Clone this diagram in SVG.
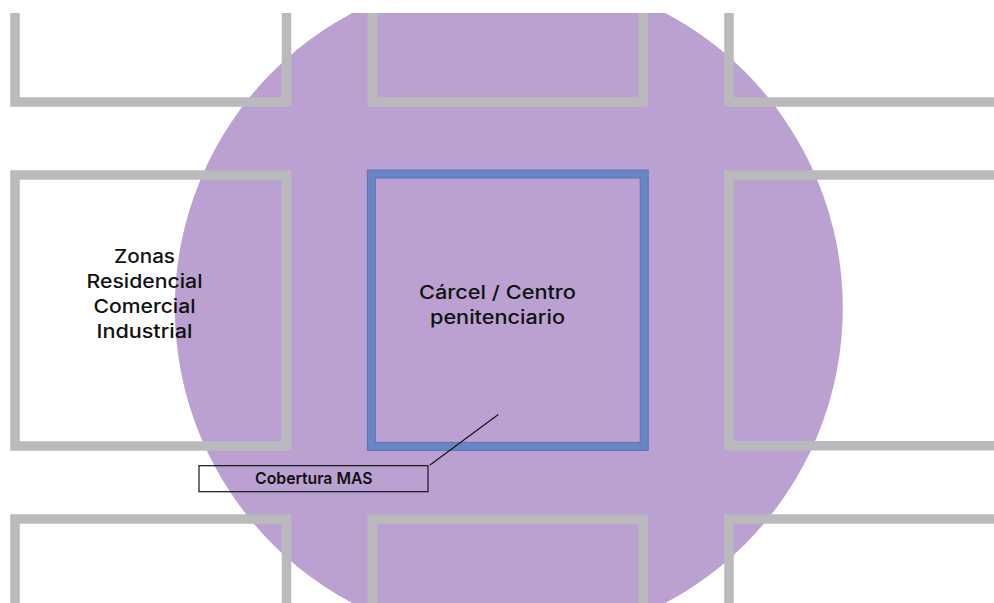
<svg xmlns="http://www.w3.org/2000/svg" width="994" height="603" viewBox="0 0 994 603">
  <defs>
    <clipPath id="frame">
      <rect x="0" y="13" width="994" height="590"/>
    </clipPath>
    <style>
      .block { fill: none; stroke: #bababd; stroke-width: 9.5; stroke-linejoin: miter; }
      .prison { fill: none; stroke: #6886c6; stroke-width: 8; }
      .prison-edge { fill: none; stroke: #5a74b0; stroke-width: 1; }
      .lbl { font-family: Inter, "Open Sans", "Liberation Sans", sans-serif; font-size: 18.5px; font-weight: 500; fill: #111111; text-anchor: middle; }
      .tag { font-family: Inter, "Open Sans", "Liberation Sans", sans-serif; font-size: 16.5px; font-weight: 600; fill: #111111; text-anchor: middle; }
      .box { fill: none; stroke: #141414; stroke-width: 1.2; }
      .lead { stroke: #141414; stroke-width: 1.2; fill: none; }
    </style>
  </defs>
  <rect x="0" y="0" width="994" height="603" fill="#ffffff"/>
  <g clip-path="url(#frame)">
    <g id="coverage-area">
      <circle cx="508.8" cy="308" r="334" fill="#bba1d2"/>
    </g>
    <g id="block-top-left"><path class="block" d="M15,13 V102 H286.5 V13"/></g>
    <g id="block-top-middle"><path class="block" d="M372.3,13 V102 H643 V13"/></g>
    <g id="block-top-right"><path class="block" d="M729,13 V102 H1000"/></g>
    <g id="block-zonas">
      <rect class="block" x="15" y="175" width="271.5" height="271"/>
      <text class="lbl" x="144.5" y="263.3" textLength="61" lengthAdjust="spacingAndGlyphs">Zonas</text>
      <text class="lbl" x="144.5" y="288.2" textLength="116" lengthAdjust="spacingAndGlyphs">Residencial</text>
      <text class="lbl" x="144.5" y="313" textLength="102" lengthAdjust="spacingAndGlyphs">Comercial</text>
      <text class="lbl" x="144.5" y="337.8" textLength="96" lengthAdjust="spacingAndGlyphs">Industrial</text>
    </g>
    <g id="block-middle-right"><path class="block" d="M1000,175 H729 V445.8 H1000"/></g>
    <g id="carcel">
      <rect class="prison" x="371.3" y="174" width="272.9" height="272.4"/>
      <rect class="prison-edge" x="367.3" y="170" width="280.9" height="280.4"/>
      <rect class="prison-edge" x="375.3" y="178" width="264.9" height="264.4"/>
      <text class="lbl" x="497.5" y="299.3" font-size="19" textLength="157" lengthAdjust="spacingAndGlyphs">Cárcel / Centro</text>
      <text class="lbl" x="497.5" y="323.8" font-size="19" textLength="135" lengthAdjust="spacingAndGlyphs">penitenciario</text>
    </g>
    <g id="block-bottom-left"><path class="block" d="M15,610 V519 H286.5 V610"/></g>
    <g id="block-bottom-middle"><path class="block" d="M372.3,610 V519 H643 V610"/></g>
    <g id="block-bottom-right"><path class="block" d="M729,610 V519 H1000"/></g>
  </g>
  <g id="connectors">
    <line class="lead" x1="430" y1="465" x2="498.3" y2="414.5"/>
  </g>
  <g id="cobertura-mas">
    <rect class="box" x="199" y="465.7" width="229" height="26"/>
    <text class="tag" x="313.8" y="484.2" textLength="117.5" lengthAdjust="spacingAndGlyphs">Cobertura MAS</text>
  </g>
</svg>
